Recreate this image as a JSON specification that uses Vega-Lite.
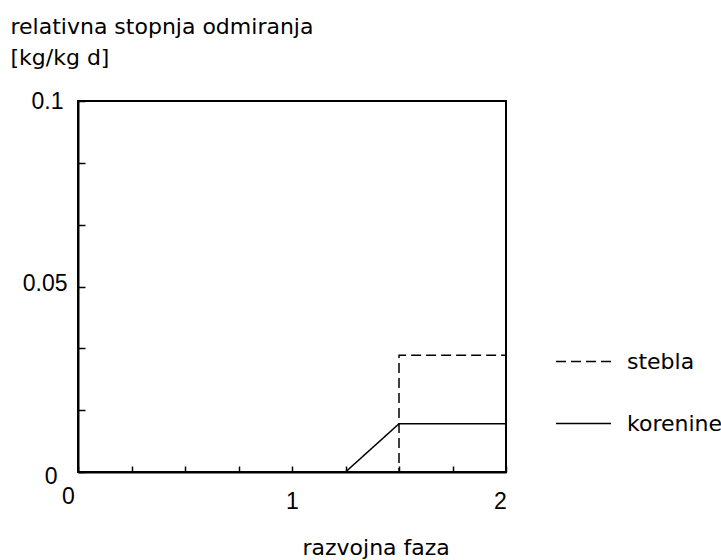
{
  "$schema": "https://vega.github.io/schema/vega-lite/v6.json",
  "width": 428,
  "height": 371,
  "autosize": "none",
  "padding": {"left": 78, "top": 101, "right": 215, "bottom": 88},
  "background": "white",
  "config": {"view": {"stroke": "black", "strokeWidth": 2}, "font": "DejaVu Sans"},
  "data": {
    "values": [
      {"serija": "stebla", "i": 0, "faza": 0, "stopnja": 0},
      {"serija": "stebla", "i": 1, "faza": 1.5, "stopnja": 0},
      {"serija": "stebla", "i": 2, "faza": 1.5, "stopnja": 0.0315},
      {"serija": "stebla", "i": 3, "faza": 2, "stopnja": 0.0315},
      {"serija": "korenine", "i": 0, "faza": 0, "stopnja": 0},
      {"serija": "korenine", "i": 1, "faza": 1.25, "stopnja": 0},
      {"serija": "korenine", "i": 2, "faza": 1.5, "stopnja": 0.013},
      {"serija": "korenine", "i": 3, "faza": 2, "stopnja": 0.013}
    ]
  },
  "mark": {"type": "line", "color": "black", "strokeWidth": 1.5, "strokeCap": "butt"},
  "encoding": {
    "x": {
      "field": "faza",
      "type": "quantitative",
      "scale": {"domain": [0, 2], "nice": false, "zero": false},
      "axis": {
        "values": [0, 0.25, 0.5, 0.75, 1, 1.25, 1.5, 1.75, 2],
        "format": "~g",
        "labelExpr": "datum.value == 0 || datum.value == 1 || datum.value == 2 ? datum.label : ''",
        "title": "razvojna faza",
        "titleFont": "DejaVu Sans",
        "titleFontSize": 22,
        "titleFontWeight": "normal",
        "titleColor": "black",
        "titleAlign": "left",
        "titleBaseline": "alphabetic",
        "titleX": 224,
        "titleY": 82,
        "labelFont": "Liberation Sans",
        "labelFontSize": 23,
        "labelColor": "black",
        "labelBaseline": "top",
        "labelAlign": "center",
        "labelPadding": {"condition": {"test": "datum.value == 0", "value": 19}, "value": 24},
        "labelOffset": {"condition": [{"test": "datum.value == 0", "value": -10}, {"test": "datum.value == 2", "value": -6}], "value": 0},
        "labelOverlap": false,
        "labelFlush": false,
        "tickSize": -6,
        "tickWidth": 1.5,
        "tickColor": "black",
        "domainColor": "black",
        "domainWidth": 2,
        "grid": false
      }
    },
    "y": {
      "field": "stopnja",
      "type": "quantitative",
      "scale": {"domain": [0, 0.1], "nice": false},
      "axis": {
        "values": [0, 0.0166667, 0.0333333, 0.05, 0.0666667, 0.0833333, 0.1],
        "labelExpr": "datum.value == 0 ? '0' : (datum.value == 0.05 ? '0.05' : (datum.value == 0.1 ? '0.1' : ''))",
        "title": ["relativna stopnja odmiranja", "[kg/kg d]"],
        "titleFont": "DejaVu Sans",
        "titleFontSize": 22,
        "titleFontWeight": "normal",
        "titleColor": "black",
        "titleAngle": 0,
        "titleAlign": "left",
        "titleBaseline": "alphabetic",
        "titleX": -68,
        "titleY": -68,
        "titleLineHeight": 31,
        "labelFont": "Liberation Sans",
        "labelFontSize": 23,
        "labelColor": "black",
        "labelBaseline": "middle",
        "labelAlign": "right",
        "labelPadding": {"condition": [{"test": "datum.value == 0", "value": 28}, {"test": "datum.value == 0.1", "value": 22}], "value": 18},
        "labelOffset": {"condition": [{"test": "datum.value == 0", "value": 4}, {"test": "datum.value == 0.05", "value": -3}], "value": 0},
        "labelOverlap": false,
        "labelFlush": false,
        "tickSize": -7,
        "tickWidth": 1.5,
        "tickColor": "black",
        "domainColor": "black",
        "domainWidth": 2,
        "grid": false
      }
    },
    "strokeDash": {
      "field": "serija",
      "type": "nominal",
      "scale": {"domain": ["stebla", "korenine"], "range": [[10, 5], [1, 0]]},
      "legend": {
        "title": null,
        "orient": "none",
        "legendX": 477,
        "legendY": 232,
        "padding": 0,
        "symbolType": "stroke",
        "symbolSize": 3025,
        "symbolStrokeWidth": 1.5,
        "symbolStrokeColor": "black",
        "labelFont": "DejaVu Sans",
        "labelFontSize": 22,
        "labelColor": "black",
        "labelOffset": 15,
        "rowPadding": 22
      }
    },
    "order": {"field": "i", "type": "quantitative"}
  }
}
